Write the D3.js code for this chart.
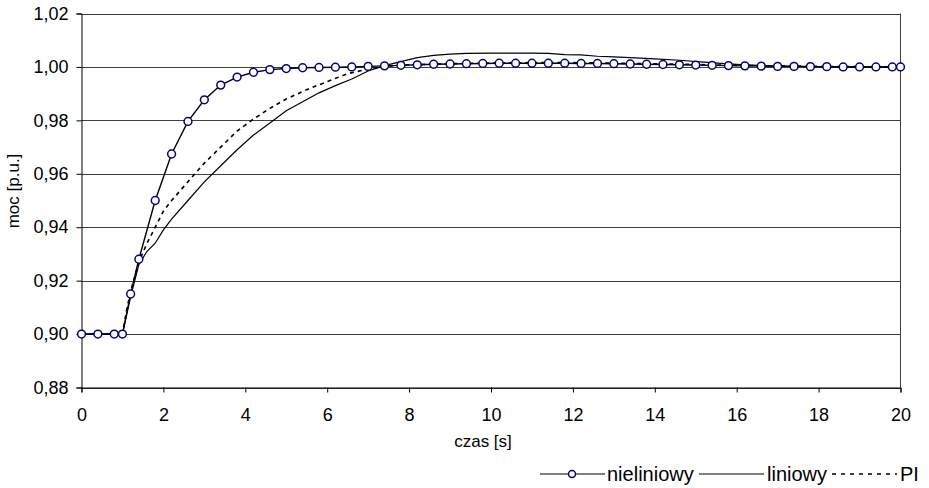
<!DOCTYPE html>
<html>
<head>
<meta charset="utf-8">
<script src="https://cdn.jsdelivr.net/npm/d3@7"></script>
<style>
  body { margin: 0; background: #fff; }
  svg { display: block; font-family: "Liberation Sans", Arial, sans-serif; }
</style>
</head>
<body>
<svg id="chart" width="929" height="488"></svg>
<script>
// Response of power (p.u.) after a step at t = 1 s for three controllers

const xTicks = [0, 2, 4, 6, 8, 10, 12, 14, 16, 18, 20];
const yTicks = [0.88, 0.90, 0.92, 0.94, 0.96, 0.98, 1.00, 1.02];

// nonlinear controller (line with circle markers)
const nlTime = [0, 0.4, 0.8, 1.0, 1.2, 1.4, 1.8, 2.2, 2.6, 3.0, 3.4, 3.8, 4.2, 4.6, 5.0, 5.4, 5.8,
  6.2, 6.6, 7.0, 7.4, 7.8, 8.2, 8.6, 9.0, 9.4, 9.8, 10.2, 10.6, 11.0, 11.4, 11.8, 12.2, 12.6,
  13.0, 13.4, 13.8, 14.2, 14.6, 15.0, 15.4, 15.8, 16.2, 16.6, 17.0, 17.4, 17.8, 18.2, 18.6,
  19.0, 19.4, 19.8, 20.0];
const nlValue = [0.900, 0.900, 0.900, 0.900, 0.915, 0.928, 0.950, 0.9674, 0.9796, 0.9877, 0.9932,
  0.9962, 0.9980, 0.9990, 0.9994, 0.9997, 0.9998, 0.9999, 1.0000, 1.0002, 1.0004, 1.0006,
  1.0008, 1.0010, 1.0011, 1.0012, 1.0013, 1.0014, 1.0014, 1.0014, 1.0014, 1.0014, 1.0013,
  1.0013, 1.0012, 1.0011, 1.0010, 1.0009, 1.0008, 1.0007, 1.0006, 1.0005, 1.0004, 1.0003,
  1.0002, 1.0002, 1.0001, 1.0001, 1.0000, 1.0000, 1.0000, 1.0000, 1.0000];

// linear controller (solid line)
const linTime = [0, 1.0, 1.1, 1.2, 1.4, 1.6, 1.8, 2.0, 2.2, 2.6, 3.0, 3.4, 3.8, 4.2, 4.6, 5.0,
  5.4, 5.8, 6.2, 6.6, 7.0, 7.4, 7.8, 8.2, 8.6, 9.0, 9.4, 10.0, 11.0, 11.4, 11.8, 12.2, 12.6,
  13.0, 13.4, 14.0, 14.6, 15.2, 15.7, 16.2, 16.7, 17.4, 18.0, 19.0, 20.0];
const linValue = [0.900, 0.900, 0.907, 0.914, 0.926, 0.931, 0.934, 0.939, 0.943, 0.950, 0.957,
  0.963, 0.969, 0.9745, 0.979, 0.9836, 0.987, 0.9903, 0.993, 0.9955, 0.9985, 1.0005, 1.002,
  1.0035, 1.0043, 1.0048, 1.0051, 1.0052, 1.0052, 1.0051, 1.0046, 1.0045, 1.0040, 1.0038,
  1.0035, 1.0030, 1.0025, 1.0018, 1.0012, 1.0008, 1.0005, 1.0002, 1.0001, 1.0000, 1.0000];

// PI controller (dashed line)
const piTime = [0, 1.0, 1.1, 1.2, 1.4, 1.6, 1.8, 2.0, 2.2, 2.6, 3.0, 3.4, 3.8, 4.2, 4.6, 5.0,
  5.5, 6.0, 6.5, 7.0, 7.5, 8.0, 9.0, 10.0, 11.0, 12.0, 13.0, 14.0, 15.0, 16.0, 17.0, 18.0,
  19.0, 20.0];
const piValue = [0.900, 0.900, 0.909, 0.916, 0.927, 0.934, 0.940, 0.946, 0.950, 0.957, 0.964,
  0.970, 0.976, 0.9805, 0.9845, 0.988, 0.9915, 0.9945, 0.9975, 0.9992, 1.0003, 1.0008, 1.0012,
  1.0015, 1.0016, 1.0016, 1.0014, 1.0012, 1.0009, 1.0006, 1.0004, 1.0002, 1.0001, 1.0000];

const seriesNames = ["nieliniowy", "liniowy", "PI"];

const svg = d3.select("#chart");
const plot = { left: 81.5, right: 900.5, top: 13.5, bottom: 387.5 };

const x = d3.scaleLinear().domain([0, 20]).range([plot.left, plot.right]);
const y = d3.scaleLinear().domain([0.88, 1.02]).range([plot.bottom, plot.top]);

const fmtY = v => d3.format(".2f")(v).replace(".", ",");

// horizontal gridlines
svg.append("g")
  .selectAll("line")
  .data(yTicks)
  .join("line")
  .attr("x1", plot.left).attr("x2", plot.right)
  .attr("y1", d => Math.round(y(d)) + 0.5).attr("y2", d => Math.round(y(d)) + 0.5)
  .attr("stroke", "#404040").attr("stroke-width", 1);

// right border of the plot area
svg.append("line")
  .attr("x1", plot.right).attr("x2", plot.right)
  .attr("y1", plot.top).attr("y2", plot.bottom)
  .attr("stroke", "#404040");

// y axis
const yAxis = d3.axisLeft(y).tickValues(yTicks).tickFormat(fmtY).tickSize(5).tickPadding(8);
const gy = svg.append("g").attr("transform", `translate(${plot.left},0)`).call(yAxis);
gy.select(".domain").attr("stroke", "#000");
gy.selectAll(".tick line").attr("stroke", "#000");
gy.selectAll("text").attr("font-size", 18).attr("fill", "#000")
  .attr("font-family", "Liberation Sans, Arial, sans-serif");

// x axis
const xAxis = d3.axisBottom(x).tickValues(xTicks).tickFormat(d3.format("d")).tickSize(5).tickPadding(16);
const gx = svg.append("g").attr("transform", `translate(0,${plot.bottom})`).call(xAxis);
gx.select(".domain").attr("stroke", "#000");
gx.selectAll(".tick line").attr("stroke", "#000");
gx.selectAll("text").attr("font-size", 18).attr("fill", "#000")
  .attr("font-family", "Liberation Sans, Arial, sans-serif");

// axis titles
svg.append("text")
  .attr("x", 483).attr("y", 447)
  .attr("text-anchor", "middle").attr("font-size", 17)
  .text("czas [s]");
svg.append("text")
  .attr("transform", "translate(19,191) rotate(-90)")
  .attr("text-anchor", "middle").attr("font-size", 17)
  .text("moc [p.u.]");

const line = d3.line().x(d => x(d[0])).y(d => y(d[1]));
const zip = (a, b) => a.map((t, i) => [t, b[i]]);

const nlData = zip(nlTime, nlValue);
const linData = zip(linTime, linValue);
const piData = zip(piTime, piValue);

const g = svg.append("g");

g.append("path").datum(piData)
  .attr("d", line).attr("fill", "none")
  .attr("stroke", "#000").attr("stroke-width", 1.6)
  .attr("stroke-dasharray", "4,4");

g.append("path").datum(linData)
  .attr("d", line).attr("fill", "none")
  .attr("stroke", "#000").attr("stroke-width", 1.2);

g.append("path").datum(nlData)
  .attr("d", line).attr("fill", "none")
  .attr("stroke", "#000").attr("stroke-width", 1.4);

g.selectAll("circle")
  .data(nlData)
  .join("circle")
  .attr("cx", d => x(d[0])).attr("cy", d => y(d[1]))
  .attr("r", 3.9)
  .attr("fill", "#fff").attr("stroke", "#000080").attr("stroke-width", 1.5);

// legend
const leg = svg.append("g").attr("font-size", 20);
const ly = 474;
leg.append("line").attr("x1", 540).attr("x2", 605).attr("y1", ly).attr("y2", ly)
  .attr("stroke", "#000").attr("stroke-width", 1.2);
leg.append("circle").attr("cx", 572).attr("cy", ly).attr("r", 3.5)
  .attr("fill", "#fff").attr("stroke", "#000080").attr("stroke-width", 1.5);
leg.append("text").attr("x", 607).attr("y", ly + 7).text(seriesNames[0]);

leg.append("line").attr("x1", 699).attr("x2", 764).attr("y1", ly).attr("y2", ly)
  .attr("stroke", "#000").attr("stroke-width", 1.2);
leg.append("text").attr("x", 767).attr("y", ly + 7).text(seriesNames[1]);

leg.append("line").attr("x1", 832).attr("x2", 897).attr("y1", ly).attr("y2", ly)
  .attr("stroke", "#000").attr("stroke-width", 1.6).attr("stroke-dasharray", "4,5");
leg.append("text").attr("x", 900).attr("y", ly + 7).text(seriesNames[2]);
</script>
</body>
</html>
